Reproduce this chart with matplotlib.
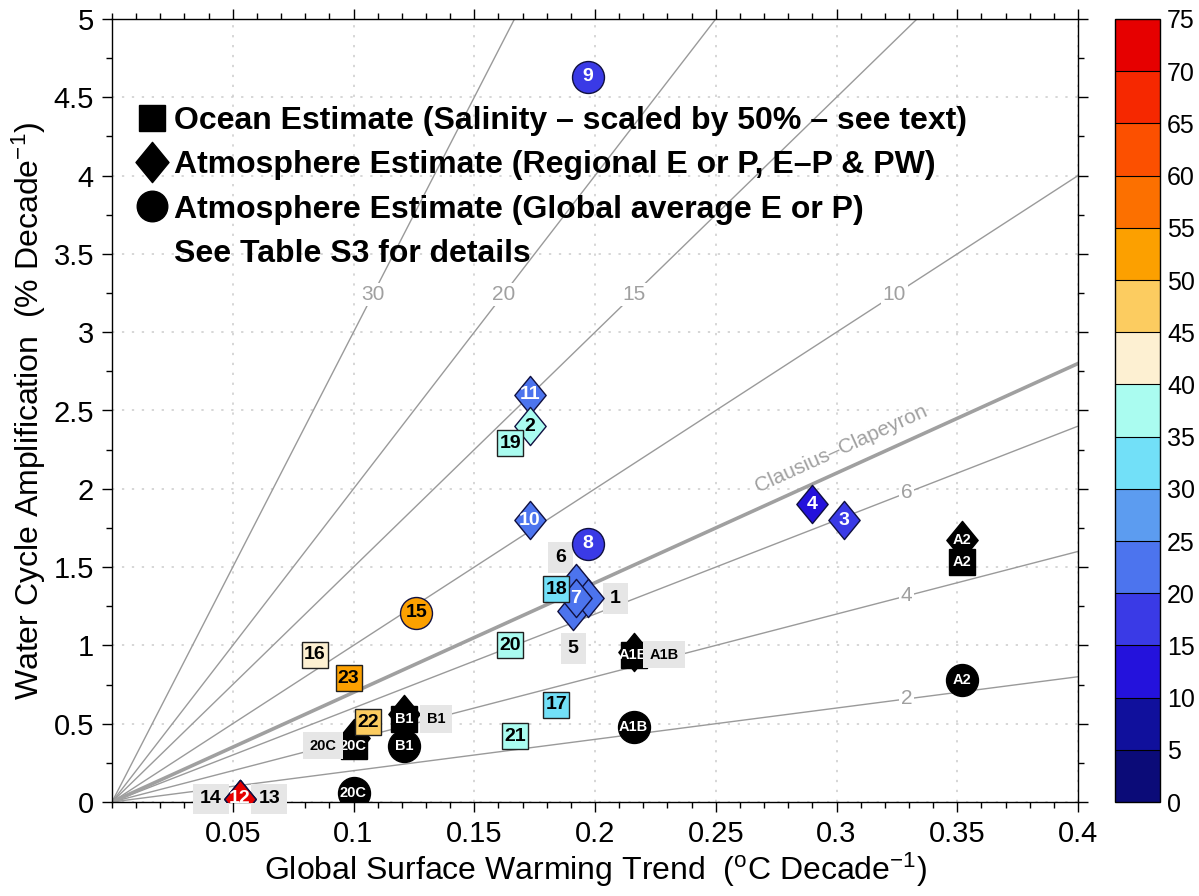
import numpy as np
import matplotlib
matplotlib.use("Agg")
import matplotlib.pyplot as plt
from matplotlib.colors import ListedColormap, BoundaryNorm
from matplotlib.path import Path
from matplotlib.lines import Line2D
import matplotlib.colorbar as mcolorbar

plt.rcParams['font.family'] = ['Liberation Sans', 'DejaVu Sans']
plt.rcParams['mathtext.fontset'] = 'custom'
plt.rcParams['mathtext.rm'] = 'Liberation Sans'
plt.rcParams['mathtext.it'] = 'Liberation Sans:italic'
plt.rcParams['mathtext.bf'] = 'Liberation Sans:bold'

# ---------------- data ----------------
# colour scale (colorbar bins)
cbar_bounds = list(range(0, 80, 5))
cbar_colors = ['#0b0b78', '#10109c', '#2412dc', '#3a3ae6', '#4c74ee', '#5c9cf0',
               '#72e0f8', '#aafcf0', '#fdf0d2', '#fccc60', '#fca000', '#fc7000',
               '#fc5000', '#f62800', '#e60000']

# Ocean estimates (squares)
ocean_ids = ['19', '18', '20', '16', '23', '22', '17', '21']
ocean_x = [0.165, 0.184, 0.165, 0.084, 0.098, 0.106, 0.184, 0.167]
ocean_y = [2.29, 1.36, 1.00, 0.94, 0.79, 0.51, 0.62, 0.42]
ocean_val = [37, 33, 37, 42, 52, 47, 33, 37]

# Atmosphere regional estimates (diamonds)
regional_ids = ['14', '13', '11', '2', '10', '6', '5', '1', '7', '4', '3', '12']
regional_x = [0.053, 0.053, 0.173, 0.173, 0.173, 0.192, 0.191, 0.197, 0.192, 0.290, 0.303, 0.053]
regional_y = [0.02, 0.02, 2.60, 2.40, 1.80, 1.40, 1.22, 1.30, 1.30, 1.90, 1.80, 0.02]
regional_val = [72, 72, 22, 37, 22, 22, 22, 22, 22, 12, 17, 72]

# Atmosphere global-average estimates (circles)
global_ids = ['9', '8', '15']
global_x = [0.197, 0.197, 0.126]
global_y = [4.63, 1.65, 1.21]
global_val = [17, 17, 52]

# Model scenarios (black)
scen_names = ['20C', 'B1', 'A1B', 'A2']
scen_x = [0.100, 0.121, 0.216, 0.352]
scen_ocean_y = [0.36, 0.53, 0.94, 1.53]
scen_regional_y = [0.41, 0.56, 0.96, 1.67]
scen_global_y = [0.06, 0.36, 0.48, 0.78]

# labels drawn in grey boxes beside overlapping markers (id, dx, dy in points)
side_labels_num = [('6', -11, 18), ('1', 20, 0), ('5', 0, -27), ('14', -21, 0), ('13', 21, 0)]
side_labels_scen = [('20C', -22, 0), ('B1', 23, 0), ('A1B', 22, 0)]

# scaling lines (% per degC)
ray_slopes = [2, 4, 6, 10, 15, 20, 30]
cc_slope = 7

# ---------------- figure ----------------
W, H = 1199, 896
fig = plt.figure(figsize=(W / 100, H / 100), dpi=100)
L, R, T, B = 112, 1078, 19, 802
ax = fig.add_axes([L / W, 1 - B / H, (R - L) / W, (B - T) / H])
ax.set_xlim(0, 0.4)
ax.set_ylim(0, 5)

cmap = ListedColormap(cbar_colors)
norm = BoundaryNorm(cbar_bounds, cmap.N)

# grid
ax.set_xticks(np.arange(0.05, 0.401, 0.05))
ax.set_xticklabels(['0.05', '0.1', '0.15', '0.2', '0.25', '0.3', '0.35', '0.4'])
ax.set_yticks(np.arange(0, 5.01, 0.5))
ax.set_yticklabels(['0', '0.5', '1', '1.5', '2', '2.5', '3', '3.5', '4', '4.5', '5'])
ax.set_xticks(np.arange(0, 0.401, 0.01), minor=True)
ax.set_yticks(np.arange(0, 5.01, 0.25), minor=True)
ax.grid(True, which='major', color='#cccccc', linestyle=(0, (1.5, 5)), linewidth=1.1, zorder=0)
ax.set_axisbelow(True)
ax.tick_params(which='both', direction='out', top=True, right=True, labelsize=21, pad=6)
ax.tick_params(which='major', length=7, width=1)
ax.tick_params(which='minor', length=4, width=1)
for s in ax.spines.values():
    s.set_linewidth(1.0)

# rays
xx = np.array([0, 0.4])
for k in ray_slopes:
    ax.plot(xx, k * xx, color='#9a9a9a', lw=1.0, zorder=1)
ax.plot(xx, cc_slope * xx, color='#a0a0a0', lw=2.6, zorder=1)

lab_kw = dict(color='#a0a0a0', fontsize=15, ha='center', va='center', zorder=2,
              bbox=dict(fc='white', ec='none', pad=1.5))
for k in [30, 20, 15, 10]:
    ax.text(3.24 / k, 3.24, str(k), **lab_kw)
for k in [6, 4, 2]:
    ax.text(0.329, 0.329 * k, str(k), **lab_kw)
# Clausius-Clapeyron label rotated along the line
p0 = ax.transData.transform((0, 0))
p1 = ax.transData.transform((0.4, 0.4 * cc_slope))
ang = np.degrees(np.arctan2(p1[1] - p0[1], p1[0] - p0[0]))
ax.text(0.302, 0.302 * cc_slope + 0.14, 'Clausius\u2013Clapeyron', color='#a0a0a0', fontsize=15,
        rotation=ang, rotation_mode='anchor', ha='center', va='center', zorder=2)

# markers
dverts = [(0, 1), (0.82, 0), (0, -1), (-0.82, 0), (0, 1)]
dcodes = [Path.MOVETO, Path.LINETO, Path.LINETO, Path.LINETO, Path.CLOSEPOLY]
diamond = Path(dverts, dcodes)
MS_SQ, MS_DI, MS_CI = 18.5, 27.5, 23


def txtcol(v):
    return 'black' if 30 <= v < 55 else 'white'


# model scenario markers
for i, nm in enumerate(scen_names):
    ax.plot(scen_x[i], scen_regional_y[i], marker=diamond, ms=MS_DI, color='black', ls='none', zorder=3)
    ax.plot(scen_x[i], scen_ocean_y[i], marker='s', ms=MS_SQ, color='black', ls='none', zorder=3.1)
    ax.plot(scen_x[i], scen_global_y[i], marker='o', ms=MS_CI, color='black', ls='none', zorder=3.1)
    ax.text(scen_x[i], scen_ocean_y[i], nm, color='white', fontsize=10.5, fontweight='bold',
            ha='center', va='center', zorder=3.2)
    ax.text(scen_x[i], scen_global_y[i], nm, color='white', fontsize=10.5, fontweight='bold',
            ha='center', va='center', zorder=3.2)
    if nm == 'A2':
        ax.text(scen_x[i], scen_regional_y[i], nm, color='white', fontsize=10.5, fontweight='bold',
                ha='center', va='center', zorder=3.2)

# numbered points
for i, nm in enumerate(regional_ids):
    c = cmap(norm(regional_val[i]))
    ax.plot(regional_x[i], regional_y[i], marker=diamond, ms=MS_DI, mfc=c, mec='#101040',
            mew=1.0, ls='none', zorder=4 + i * 0.01)
    if nm not in ('14', '13', '6', '5', '1'):
        ax.text(regional_x[i], regional_y[i], nm, color=txtcol(regional_val[i]), fontsize=14,
                fontweight='bold', ha='center', va='center', zorder=4.005 + i * 0.01)
for i, nm in enumerate(ocean_ids):
    c = cmap(norm(ocean_val[i]))
    ax.plot(ocean_x[i], ocean_y[i], marker='s', ms=MS_SQ, mfc=c, mec='#202020',
            mew=1.0, ls='none', zorder=5)
    ax.text(ocean_x[i], ocean_y[i], nm, color=txtcol(ocean_val[i]), fontsize=14,
            fontweight='bold', ha='center', va='center', zorder=5.1)
for i, nm in enumerate(global_ids):
    c = cmap(norm(global_val[i]))
    ax.plot(global_x[i], global_y[i], marker='o', ms=MS_CI, mfc=c, mec='#101040',
            mew=1.0, ls='none', zorder=5)
    ax.text(global_x[i], global_y[i], nm, color=txtcol(global_val[i]), fontsize=14,
            fontweight='bold', ha='center', va='center', zorder=5.1)

# grey side labels
for nm, dx, dy in side_labels_num:
    j = regional_ids.index(nm)
    ax.annotate(nm, (regional_x[j], regional_y[j]), xytext=(dx, dy), textcoords='offset points',
                fontsize=14, fontweight='bold', ha='center', va='center', zorder=3.5,
                bbox=dict(fc='#e6e6e6', ec='none', boxstyle='square,pad=0.35'))
for nm, dx, dy in side_labels_scen:
    j = scen_names.index(nm)
    ax.annotate(nm, (scen_x[j], scen_ocean_y[j]), xytext=(dx, dy), textcoords='offset points',
                fontsize=10.5, fontweight='bold', ha='center', va='center', zorder=3.5,
                bbox=dict(fc='#e6e6e6', ec='none', boxstyle='square,pad=0.45'))

# axis labels
ax.set_xlabel(r'Global Surface Warming Trend  ($^{\mathrm{o}}$C Decade$^{-1}$)', fontsize=23, labelpad=2)
ax.set_ylabel(r'Water Cycle Amplification  (% Decade$^{-1}$)', fontsize=23, labelpad=4)

# legend
handles = [Line2D([], [], marker='s', ms=19, color='black', ls='none'),
           Line2D([], [], marker=diamond, ms=29, color='black', ls='none'),
           Line2D([], [], marker='o', ms=22, color='black', ls='none'),
           Line2D([], [], marker=None, ls='none')]
labels = ['Ocean Estimate (Salinity \u2013 scaled by 50% \u2013 see text)',
          'Atmosphere Estimate (Regional E or P, E\u2013P & PW)',
          'Atmosphere Estimate (Global average E or P)',
          'See Table S3 for details']
leg = ax.legend(handles, labels, loc='upper left', bbox_to_anchor=(0.025, 0.889), frameon=False,
                prop=dict(family='Liberation Sans', weight='bold', size=23),
                handlelength=1.0, handletextpad=0.17, labelspacing=0.45,
                borderpad=0, borderaxespad=0)
leg.set_zorder(6)

# colorbar
cax = fig.add_axes([1115 / W, 1 - B / H, 45 / W, (B - T) / H])
cb = mcolorbar.ColorbarBase(cax, cmap=cmap, norm=norm, boundaries=cbar_bounds,
                            ticks=cbar_bounds, drawedges=True, orientation='vertical')
cb.outline.set_linewidth(1.0)
cb.dividers.set_color('black')
cb.dividers.set_linewidth(0.8)
cax.tick_params(length=0, labelsize=18, pad=5)

fig.savefig('out.png', dpi=100)
